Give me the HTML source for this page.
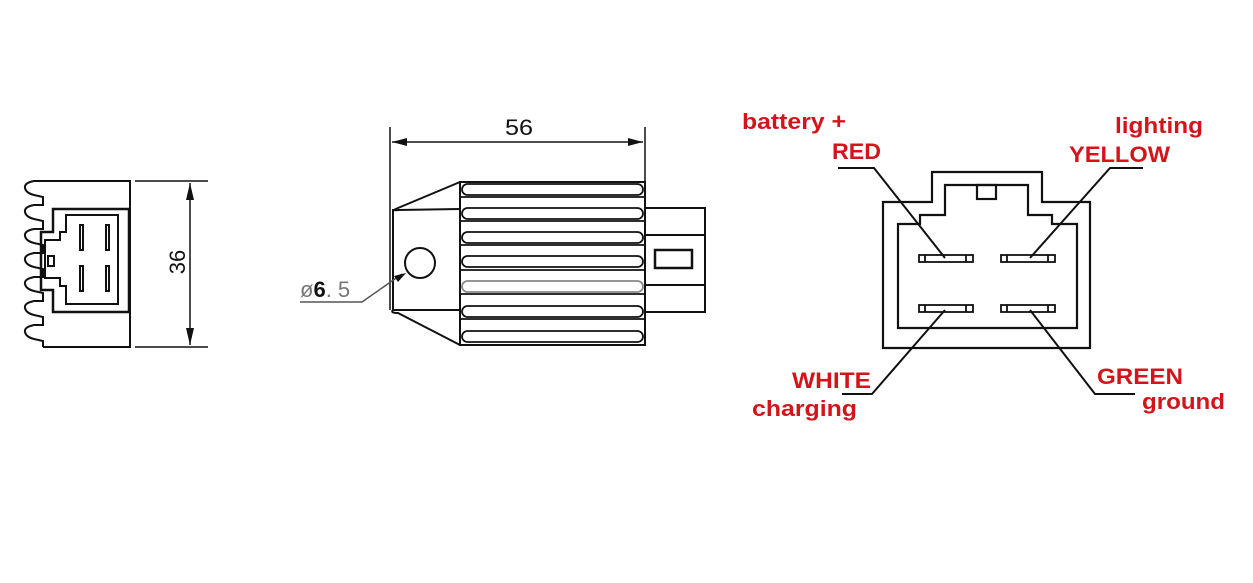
<!DOCTYPE html>
<html><head><meta charset="utf-8"><style>
html,body{margin:0;padding:0;background:#fff;}
svg{display:block;}
.r{font-family:"Liberation Sans",Arial,sans-serif;font-weight:bold;font-size:22px;fill:#d4141a;}
.k{font-family:"Liberation Sans",Arial,sans-serif;font-size:22px;fill:#111;}
</style></head><body>
<svg width="1253" height="583" viewBox="0 0 1253 583" xmlns="http://www.w3.org/2000/svg">
<rect width="1253" height="583" fill="#fff"/>
<g fill="none" stroke="#111" stroke-width="2">
<!-- LEFT VIEW -->
<path d="M43,181 L130,181 L130,347 L43,347"/>
<path d="M43,181 L34,181 Q24,183 25,188 Q26,193 34,195 L43,197 L43,205 L34,205 Q24,207 25,212 Q26,217 34,219 L43,221 L43,229 L34,229 Q24,231 25,236 Q26,241 34,243 L43,245 L43,253 L34,253 Q24,255 25,260 Q26,265 34,267 L43,269 L43,277 L34,277 Q24,279 25,284 Q26,289 34,291 L43,293 L43,301 L34,301 Q24,303 25,308 Q26,313 34,315 L43,317 L43,325 L34,325 Q24,327 25,332 Q26,337 34,339 L43,341 L43,347"/>
<path d="M53,209 L129,209 L129,312 L53,312 L53,290 L41,290 L41,232 L53,232 Z" stroke-width="2.5"/>
<path d="M66,215 L118,215 L118,304 L66,304 L66,286 L60,286 L60,278 L45,278 L45,240 L60,240 L60,232 L66,232 Z"/>
<rect x="48" y="256" width="6" height="10"/>
<rect x="80" y="225" width="3" height="25"/><rect x="106" y="225" width="3" height="25"/>
<rect x="80" y="266" width="3" height="25"/><rect x="106" y="266" width="3" height="25"/>
<path d="M135,181 L208,181 M135,347 L208,347 M190,183 L190,345" stroke-width="1.5"/>
</g>
<path d="M190,183 L186,200 L194,200 Z M190,345 L186,328 L194,328 Z" fill="#111"/>
<text class="k" transform="translate(185,262) rotate(-90)" text-anchor="middle" font-size="24">36</text>

<!-- MIDDLE VIEW -->
<g fill="none" stroke="#111" stroke-width="2">
<path d="M390,127 L390,310 M645,127 L645,182 M392,142 L643,142" stroke-width="1.5"/>
<path d="M460,182 L645,182 L645,345 L460,345 Z"/>
<path d="M460,182 L398,208 Q390,211 398,210 L460,209 M398,210 L393,210 L393,310 L460,310 M393,310 Q390,313 398,313 L460,345"/>
<g stroke-width="1.8">
<rect x="462" y="184" width="181" height="11" rx="5.5"/>
<rect x="462" y="208" width="181" height="11" rx="5.5"/>
<rect x="462" y="232" width="181" height="11" rx="5.5"/>
<rect x="462" y="256" width="181" height="11" rx="5.5"/>
<rect x="462" y="281" width="181" height="11" rx="5.5" stroke="#888"/>
<rect x="462" y="306" width="181" height="11" rx="5.5"/>
<rect x="462" y="331" width="181" height="11" rx="5.5"/>
<path d="M460,197 L645,197 M460,221 L645,221 M460,245 L645,245 M460,270 L645,270 M460,294 L645,294 M460,319 L645,319"/>
</g>
<path d="M645,208 L705,208 L705,312 L645,312 M645,235 L705,235 M645,285 L705,285"/>
<rect x="655" y="250" width="37" height="18" stroke-width="2.5"/>
<circle cx="420" cy="263" r="15"/>
<path d="M300,302 L362,302 L402,274" stroke="#555" stroke-width="1.5"/>
</g>
<path d="M392,142 L407,138 L407,146 Z M643,142 L628,138 L628,146 Z M406,273 L394,276 L398,282 Z" fill="#111"/>
<text class="k" x="505" y="135" font-size="24" textLength="28" lengthAdjust="spacingAndGlyphs">56</text>
<text class="k" x="300" y="297" font-size="22"><tspan fill="#777">ø</tspan><tspan font-weight="bold">6</tspan><tspan fill="#777">. 5</tspan></text>

<!-- RIGHT VIEW -->
<g fill="none" stroke="#111" stroke-width="2.2">
<path d="M883,202 L932,202 L932,172 L1042,172 L1042,202 L1090,202 L1090,348 L883,348 Z"/>
<path d="M898,328 L898,224 L920,224 L920,215 L945,215 L945,185 L1028,185 L1028,215 L1052,215 L1052,224 L1077,224 L1077,328 Z"/>
<rect x="977" y="185" width="19" height="14"/>
<g stroke-width="1.8">
<rect x="919" y="255" width="54" height="7"/><rect x="1001" y="255" width="54" height="7"/>
<rect x="919" y="305" width="54" height="7"/><rect x="1001" y="305" width="54" height="7"/>
<path d="M925,255 v7 M966,255 v7 M1007,255 v7 M1048,255 v7 M925,305 v7 M966,305 v7 M1007,305 v7 M1048,305 v7"/>
</g>
<path d="M838,168 L874,168 L945,258 M1143,168 L1110,168 L1030,258 M842,394 L872,394 L945,310 M1135,394 L1095,394 L1030,310" stroke-width="2"/>
</g>
<text class="r" x="742" y="129" textLength="104" lengthAdjust="spacingAndGlyphs">battery +</text>
<text class="r" x="832" y="159" textLength="49" lengthAdjust="spacingAndGlyphs">RED</text>
<text class="r" x="1115" y="133" textLength="88" lengthAdjust="spacingAndGlyphs">lighting</text>
<text class="r" x="1069" y="162" textLength="101" lengthAdjust="spacingAndGlyphs">YELLOW</text>
<text class="r" x="792" y="388" textLength="79" lengthAdjust="spacingAndGlyphs">WHITE</text>
<text class="r" x="752" y="416" textLength="105" lengthAdjust="spacingAndGlyphs">charging</text>
<text class="r" x="1097" y="384" textLength="86" lengthAdjust="spacingAndGlyphs">GREEN</text>
<text class="r" x="1142" y="409" textLength="83" lengthAdjust="spacingAndGlyphs">ground</text>
</svg>
</body></html>
